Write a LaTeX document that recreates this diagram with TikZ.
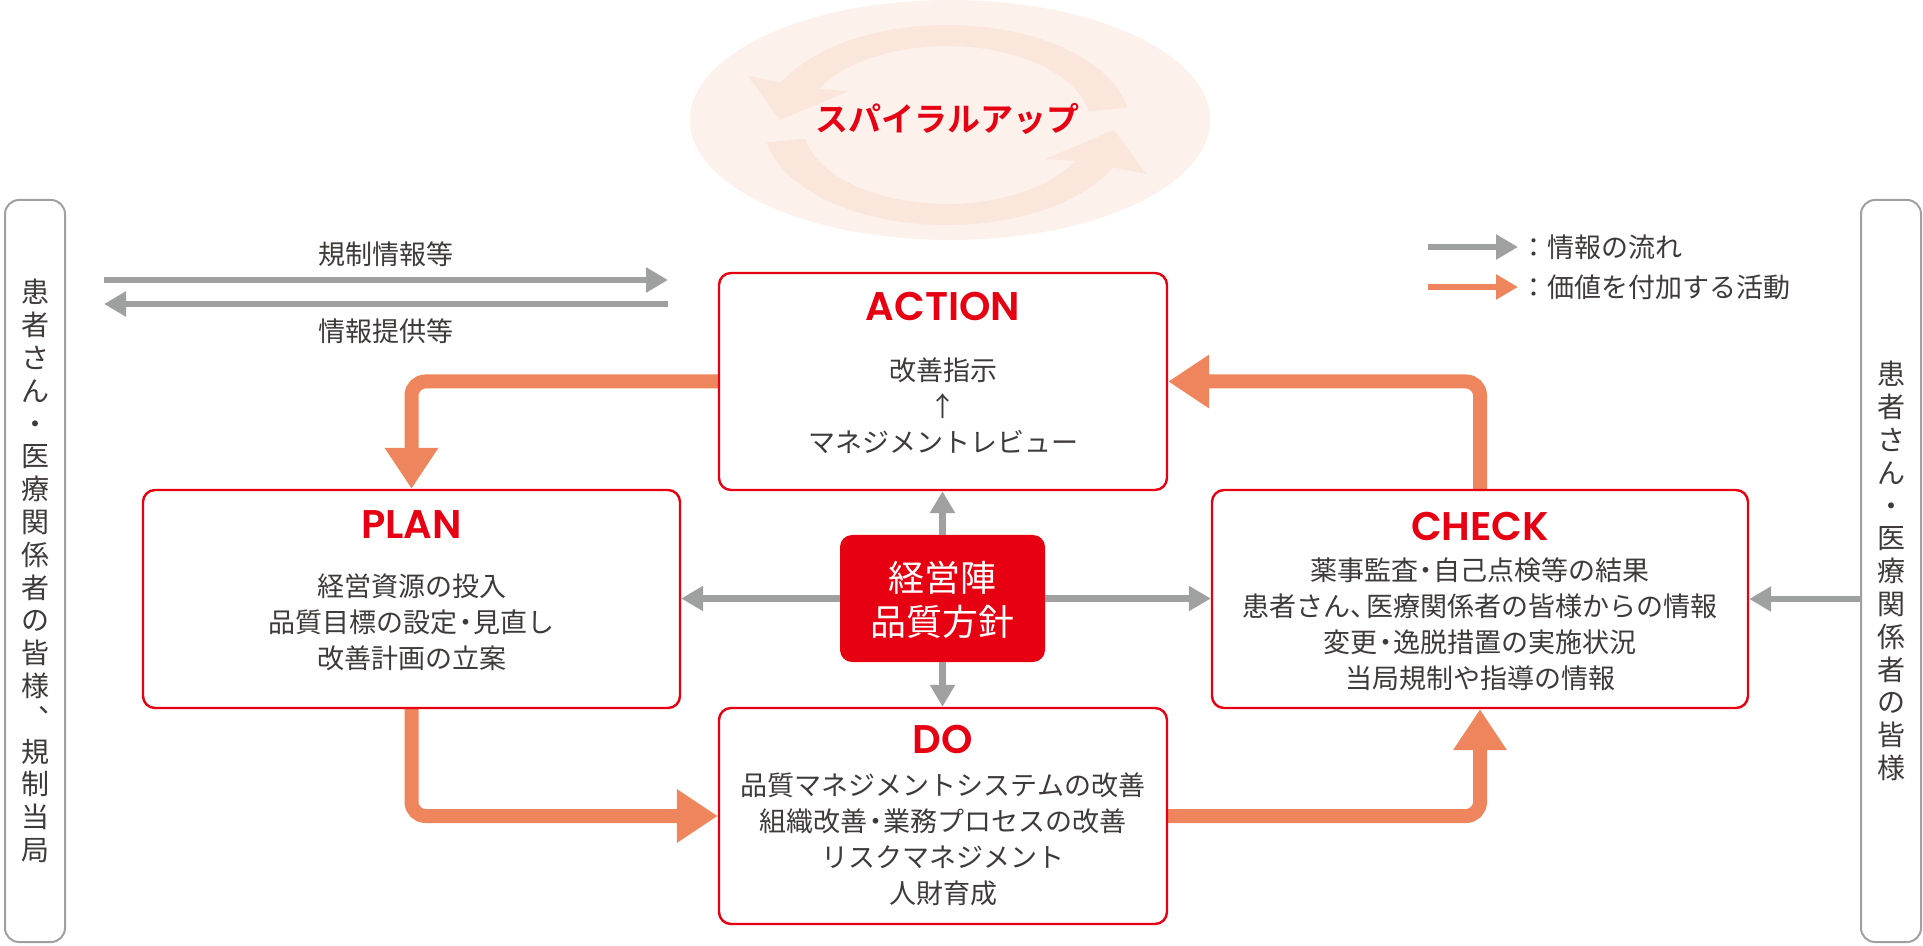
\documentclass[tikz,border=0pt]{standalone}
\usepackage{fontspec}
\setmainfont{Noto Sans CJK JP}[BoldFont={Noto Sans CJK JP Bold}]
\newfontfamily\titlefont{Poppins SemiBold}
\usetikzlibrary{arrows.meta}
\definecolor{pred}{HTML}{E60012}
\definecolor{porange}{HTML}{EF855C}
\definecolor{pgray}{HTML}{9FA0A0}
\definecolor{ptext}{HTML}{3E3A39}
\definecolor{pellipse}{HTML}{FCF1EB}
\definecolor{pband}{HTML}{FBE6DC}
\newcommand{\ndot}{\hspace{-0.22em}・\hspace{-0.22em}}
\newcommand{\ncomma}{、\hspace{-0.4em}}
\pgfdeclarelayer{bg}
\pgfsetlayers{bg,main}
\begin{document}
\begin{tikzpicture}[x=0.5pt,y=-0.5pt,
  redbox/.style={draw=pred, line width=1.2pt, rounded corners=6pt, inner sep=0pt},
  sidebox/.style={draw=pgray, line width=1pt, rounded corners=7pt, inner sep=0pt, minimum width=30pt, minimum height=371pt},
  titletext/.style={font=\titlefont\fontsize{20pt}{24pt}\selectfont, text=pred, inner sep=0pt},
  body/.style={font=\fontsize{13.5pt}{18pt}\selectfont, text=ptext, align=center, inner sep=0pt},
  vtext/.style={font=\fontsize{14pt}{16.4pt}\selectfont, text=ptext, align=center, inner sep=0pt},
  lbl/.style={font=\fontsize{13.5pt}{16pt}\selectfont, text=ptext, inner sep=0pt},
  info/.style={draw=pgray, line width=3.25pt, -{Triangle[length=11pt,width=12pt]}},
  legorange/.style={draw=porange, line width=3.25pt, -{Triangle[length=11pt,width=12pt]}},
  value/.style={draw=porange, line width=7pt, rounded corners=7pt, -{Triangle[length=20.5pt,width=25.5pt]}},
]
\useasboundingbox (0,0) rectangle (1923,946);

% spiral-up ellipse
\begin{pgfonlayer}{bg}
\fill[pellipse] (950,120) ellipse [x radius=260, y radius=120];
\begin{scope}[shift={(947,125)}]
\fill[pband] plot[domain=-10:-155,samples=40] ({183*cos(\x)},{100*sin(\x)}) -- (-199,-49) -- (-167,-5) -- (-98,-34) -- plot[domain=-153:-10,samples=40] ({144*cos(\x)},{79*sin(\x)}) -- cycle;
\end{scope}
\begin{scope}[shift={(947,125)},rotate=180]
\fill[pband] plot[domain=-10:-155,samples=40] ({183*cos(\x)},{100*sin(\x)}) -- (-199,-49) -- (-167,-5) -- (-98,-34) -- plot[domain=-153:-10,samples=40] ({144*cos(\x)},{79*sin(\x)}) -- cycle;
\end{scope}
\end{pgfonlayer}
\node[font=\bfseries\fontsize{16.5pt}{20pt}\selectfont, text=pred, inner sep=0pt] (spiral) at (947,119) {スパイラルアップ};

% side boxes
\node[sidebox] (leftbox) at (35,571) {};
\node[vtext] (lefttext) at (35,571) {患\\者\\さ\\ん\\・\\医\\療\\関\\係\\者\\の\\皆\\様\\︑\\規\\制\\当\\局};
\node[sidebox] (rightbox) at (1891,571) {};
\node[vtext] (righttext) at (1891,571) {患\\者\\さ\\ん\\・\\医\\療\\関\\係\\者\\の\\皆\\様};

% main boxes
\node[redbox, minimum width=224pt, minimum height=108.5pt] (action) at (943,381.5) {};
\node[titletext] (actiont) at (943,306) {ACTION};
\node[body] (actionb) at (943,406) {改善指示\\↑\\マネジメントレビュー};

\node[redbox, minimum width=268.5pt, minimum height=109pt] (plan) at (411.5,599) {};
\node[titletext] (plant) at (411.5,525) {PLAN};
\node[body] (planb) at (411.5,622) {経営資源の投入\\品質目標の設定\ndot 見直し\\改善計画の立案};

\node[redbox, minimum width=268pt, minimum height=109pt] (check) at (1480,599) {};
\node[titletext] (checkt) at (1480,526) {CHECK};
\node[body] (checkb) at (1480,624.5) {薬事監査\ndot 自己点検等の結果\\患者さん\ncomma 医療関係者の皆様からの情報\\変更\ndot 逸脱措置の実施状況\\当局規制や指導の情報};

\node[redbox, minimum width=224pt, minimum height=108pt] (do) at (943,816) {};
\node[titletext] (dot) at (943,739) {DO};
\node[body] (dob) at (943,839) {品質マネジメントシステムの改善\\組織改善\ndot 業務プロセスの改善\\リスクマネジメント\\人財育成};

\node[fill=pred, rounded corners=6pt, minimum width=102.5pt, minimum height=63.5pt, inner sep=0pt] (core) at (942.5,598.5) {};
\node[font=\fontsize{18pt}{22pt}\selectfont, text=white, align=center, inner sep=0pt] (coret) at (942.5,599.5) {経営陣\\品質方針};

% value arrows (orange)
\begin{pgfonlayer}{bg}
\draw[value] (action.west) -- (action.west -| plan.north) -- (plan.north);
\draw[value] (plan.south) -- (plan.south |- do.west) -- (do.west);
\draw[value] (do.east) -- (do.east -| check.south) -- (check.south);
\draw[value] (check.north) -- (check.north |- action.east) -- (action.east);
\end{pgfonlayer}

% information arrows (gray)
\draw[info] (core.north) -- (core.north |- action.south);
\draw[info] (core.south) -- (core.south |- do.north);
\draw[info] (core.west) -- (core.west -| plan.east);
\draw[info] (core.east) -- (core.east -| check.west);
\draw[info] (rightbox.west |- check.east) -- (check.east);

\coordinate (r1s) at (104,280);
\coordinate (r1e) at (668,280);
\coordinate (r2s) at (668,304);
\coordinate (r2e) at (104,304);
\draw[info] (r1s) -- (r1e);
\draw[info] (r2s) -- (r2e);
\node[lbl] (reglbl) at (386,254) {規制情報等};
\node[lbl] (provlbl) at (386,331) {情報提供等};

% legend
\coordinate (lg1s) at (1428,247);
\coordinate (lg1e) at (1518,247);
\coordinate (lg2s) at (1428,287);
\coordinate (lg2e) at (1518,287);
\draw[info] (lg1s) -- (lg1e);
\draw[legorange] (lg2s) -- (lg2e);
\node[lbl, anchor=west] (leg1) at (1520,247) {：情報の流れ};
\node[lbl, anchor=west] (leg2) at (1520,287) {：価値を付加する活動};
\end{tikzpicture}
\end{document}
